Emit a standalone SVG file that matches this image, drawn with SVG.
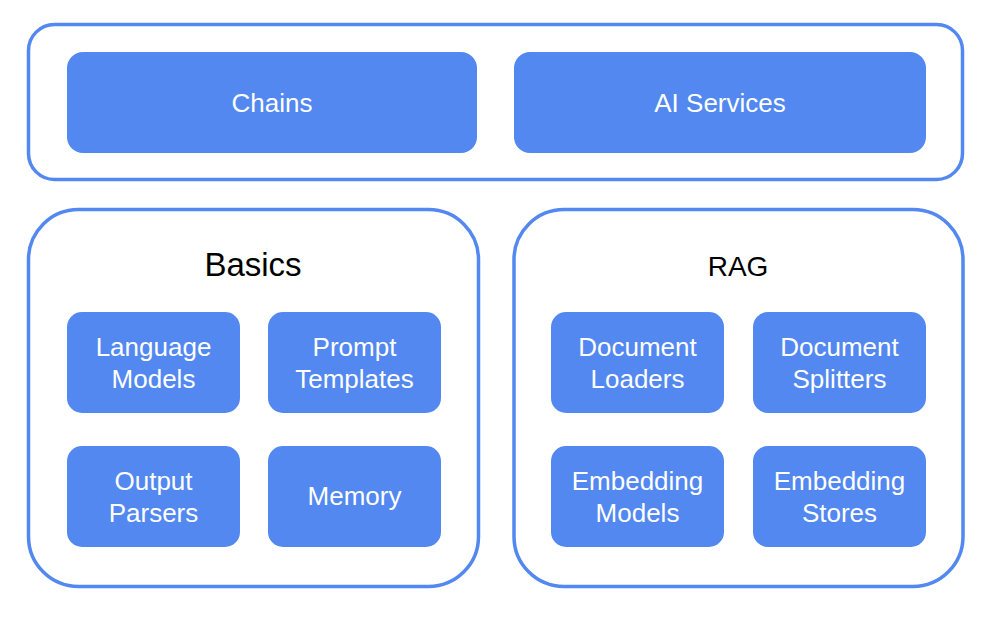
<svg xmlns="http://www.w3.org/2000/svg" width="997" height="618" viewBox="0 0 997 618">
<style>
.frame{fill:#fff;stroke:#5288f0;stroke-width:3.5}
.box{fill:#5288f0}
.lbl{font-family:"Liberation Sans",Arial,sans-serif;font-size:26px;fill:#fff;text-anchor:middle}
.ttl{font-family:"Liberation Sans",Arial,sans-serif;fill:#000;text-anchor:middle}
</style>
<rect width="997" height="618" fill="#fff"/>
<g id="top">
<rect class="frame" x="28.5" y="24.5" width="934" height="155" rx="26"/>
</g>
<g id="chains"><rect class="box" x="67" y="52" width="410" height="101" rx="16"/><text class="lbl" x="272" y="112">Chains</text></g>
<g id="ai-services"><rect class="box" x="514" y="52" width="412" height="101" rx="16"/><text class="lbl" x="720" y="112">AI Services</text></g>
<g id="basics">
<rect class="frame" x="28.5" y="209.5" width="450" height="377" rx="50"/>
<text class="ttl" x="253" y="276" font-size="33">Basics</text>
</g>
<g id="rag">
<rect class="frame" x="514" y="209.5" width="449" height="377" rx="50"/>
<text class="ttl" x="738" y="276" font-size="28">RAG</text>
</g>
<g id="language-models"><rect class="box" x="67" y="312" width="173" height="101" rx="15"/><text class="lbl" x="153.5" y="356">Language</text><text class="lbl" x="153.5" y="388">Models</text></g>
<g id="prompt-templates"><rect class="box" x="268" y="312" width="173" height="101" rx="15"/><text class="lbl" x="354.5" y="356">Prompt</text><text class="lbl" x="354.5" y="388">Templates</text></g>
<g id="output-parsers"><rect class="box" x="67" y="446" width="173" height="101" rx="15"/><text class="lbl" x="153.5" y="490">Output</text><text class="lbl" x="153.5" y="522">Parsers</text></g>
<g id="memory"><rect class="box" x="268" y="446" width="173" height="101" rx="15"/><text class="lbl" x="354.5" y="505">Memory</text></g>
<g id="document-loaders"><rect class="box" x="551" y="312" width="173" height="101" rx="15"/><text class="lbl" x="637.5" y="356">Document</text><text class="lbl" x="637.5" y="388">Loaders</text></g>
<g id="document-splitters"><rect class="box" x="753" y="312" width="173" height="101" rx="15"/><text class="lbl" x="839.5" y="356">Document</text><text class="lbl" x="839.5" y="388">Splitters</text></g>
<g id="embedding-models"><rect class="box" x="551" y="446" width="173" height="101" rx="15"/><text class="lbl" x="637.5" y="490">Embedding</text><text class="lbl" x="637.5" y="522">Models</text></g>
<g id="embedding-stores"><rect class="box" x="753" y="446" width="173" height="101" rx="15"/><text class="lbl" x="839.5" y="490">Embedding</text><text class="lbl" x="839.5" y="522">Stores</text></g>
<g id="connectors"></g>
</svg>
